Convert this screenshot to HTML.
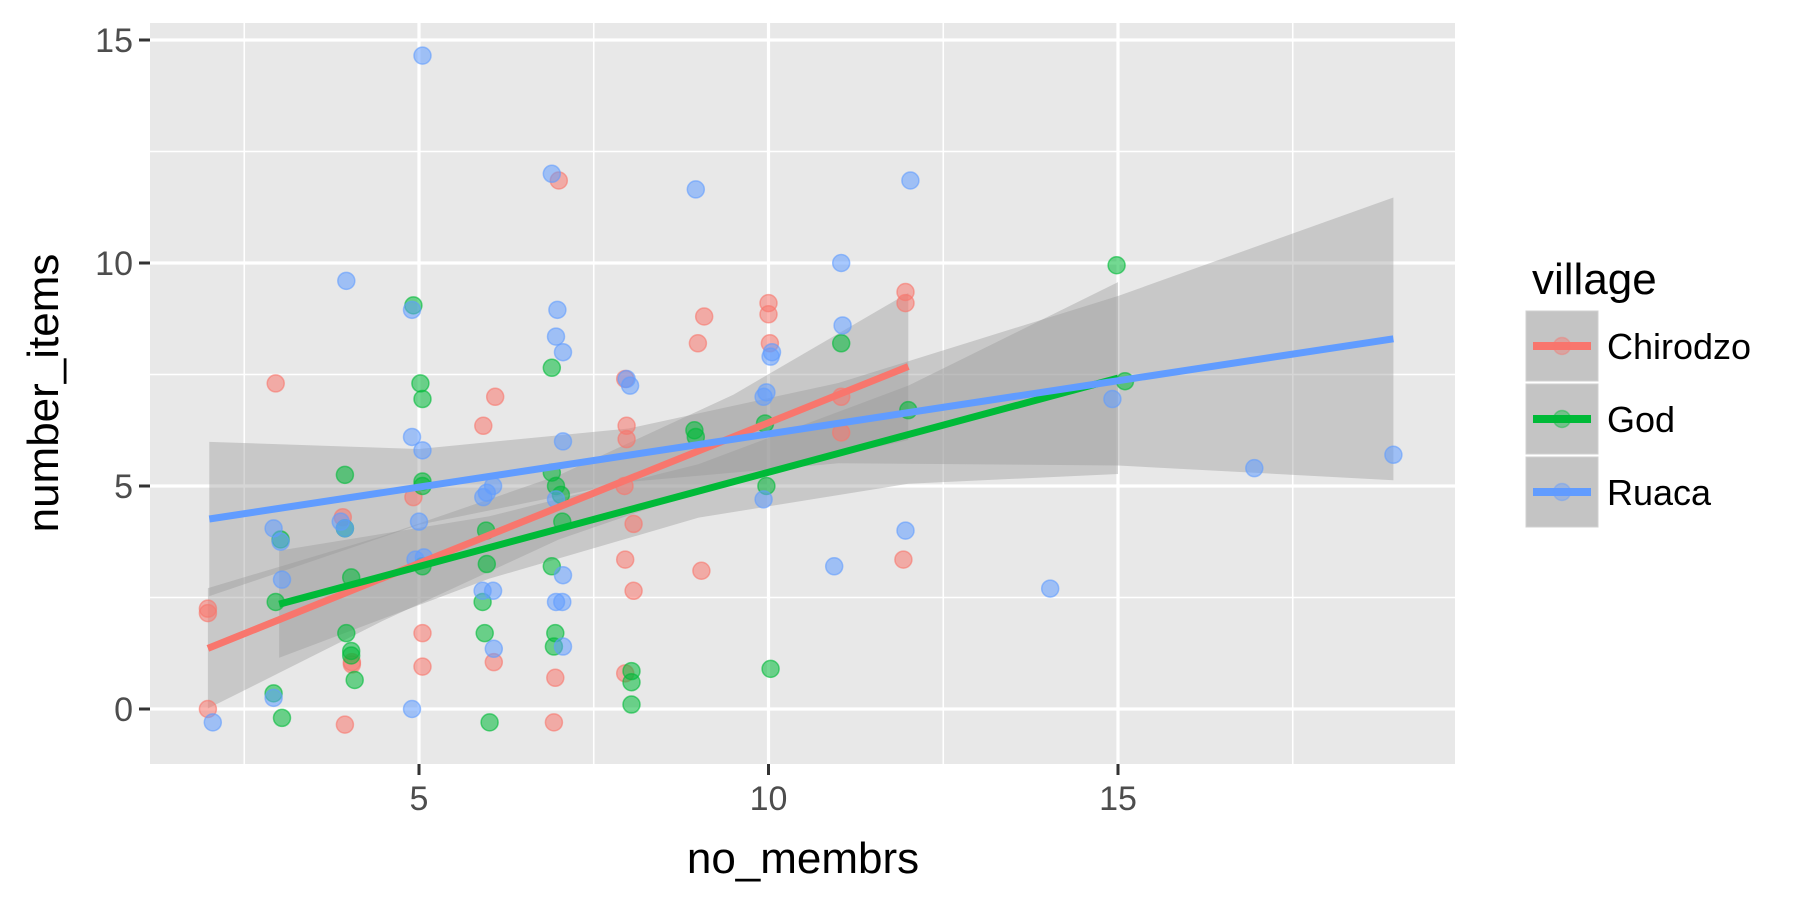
<!DOCTYPE html>
<html><head><meta charset="utf-8"><style>
html,body{margin:0;padding:0;background:#fff;}
svg{display:block;font-family:"Liberation Sans",Arial,sans-serif;}
</style></head><body>
<svg id="chart" width="1800" height="900" viewBox="0 0 1800 900">
<rect x="150" y="23" width="1305" height="741" fill="#E8E8E8"/>
<g id="grid"></g>
<g id="bands"></g>
<g id="points"></g>
<g id="lines"></g>
<g id="axes"></g>
<text x="803" y="873" font-size="44" text-anchor="middle" fill="#000">no_membrs</text>
<text transform="translate(58,393) rotate(-90)" font-size="44" text-anchor="middle" fill="#000">number_items</text>
<g id="legend">
<text x="1532" y="294" font-size="44" fill="#000">village</text>
</g>
</svg>
<script>
const categories = ["Chirodzo","God","Ruaca"];
const colors = ["#F8766D","#00BA38","#619CFF"];
const xTicks = [5,10,15];
const yTicks = [0,5,10,15];
const xMinor = [2.5,7.5,12.5,17.5];
const yMinor = [2.5,7.5,12.5];

const chirX = [1.98,1.98,1.98,2.95,3.91,3.94,4.04,4.04,4.92,5.05,5.05,5.92,6.09,6.07,7.0,6.95,6.93,7.95,7.97,7.97,7.94,7.95,8.07,8.07,7.95,8.99,9.08,9.04,10,10,10.02,11.04,11.04,11.96,11.96,11.93];
const chirY = [2.25,2.15,0,7.3,4.3,-0.35,1.05,1.0,4.75,1.7,0.95,6.35,7.0,1.05,11.85,0.7,-0.3,7.4,6.35,6.05,5.0,3.35,4.15,2.65,0.8,8.2,8.8,3.1,9.1,8.85,8.2,7.0,6.2,9.35,9.1,3.35];
const godX = [2.95,2.92,3.04,3.02,3.94,3.94,4.03,3.96,4.03,4.03,4.08,4.92,5.02,5.05,5.05,5.05,5.05,5.91,5.96,5.94,5.97,6.01,6.90,6.90,6.96,7.03,7.05,6.90,6.95,6.93,8.04,8.04,8.04,8.94,8.96,9.95,9.97,10.03,11.04,12.0,14.98,15.1];
const godY = [2.4,0.35,-0.2,3.8,5.25,4.05,2.95,1.7,1.3,1.2,0.65,9.05,7.3,6.95,5.1,5.0,3.2,2.4,4.0,1.7,3.25,-0.3,7.65,5.3,5.0,4.8,4.2,3.2,1.7,1.4,0.85,0.6,0.1,6.25,6.1,6.4,5.0,0.9,8.2,6.7,9.95,7.35];
const ruaX = [2.05,2.92,3.02,3.04,2.92,3.96,3.88,3.94,4.90,5.05,4.90,5.05,5.0,4.95,5.07,4.90,5.92,5.97,6.06,5.91,6.06,6.07,6.90,6.98,6.96,7.06,7.06,6.96,7.06,6.96,7.05,7.06,7.97,8.02,8.96,9.93,9.97,10.05,10.03,9.93,11.04,11.06,10.94,12.03,11.96,14.03,14.92,16.95,18.94];
const ruaY = [-0.3,4.05,3.75,2.9,0.25,9.6,4.2,4.05,8.95,14.65,6.1,5.8,4.2,3.35,3.4,0,4.75,4.85,5.0,2.65,2.65,1.35,12.0,8.95,8.35,8.0,6.0,4.7,3.0,2.4,2.4,1.4,7.4,7.25,11.65,7.0,7.1,8.0,7.9,4.7,10.0,8.6,3.2,11.85,4.0,2.7,6.95,5.4,5.7];

const chirFitX = [1.98,4.5,7,9.5,12];
const chirFitY = [1.36,2.94,4.52,6.1,7.68];
const chirHalf = [1.35,0.95,0.72,0.95,1.65];
const godFitX = [3,6,9,12,15];
const godFitY = [2.35,3.62,4.89,6.15,7.42];
const godHalf = [1.2,0.7,0.6,1.1,2.15];
const ruaFitX = [2,5,8,11,15,18.94];
const ruaFitY = [4.26,4.98,5.69,6.41,7.36,8.3];
const ruaHalf = [1.73,0.85,0.6,0.9,1.9,3.17];

const X0=150,X1=1455,Y0=23,Y1=764;
const xs = v => 419 + (v-5)*69.9;
const ys = v => 709 - v*44.6;
const NS="http://www.w3.org/2000/svg";
function mk(tag, attrs, parent){const e=document.createElementNS(NS,tag);for(const k in attrs)e.setAttribute(k,attrs[k]);parent.appendChild(e);return e;}

const grid=document.getElementById('grid');
xMinor.forEach(v=>{const l=mk('line',{x1:xs(v),x2:xs(v),y1:Y0,y2:Y1,stroke:'#fff','stroke-width':1.6},grid);

});
yMinor.forEach(v=>{const l=mk('line',{x1:X0,x2:X1,y1:ys(v),y2:ys(v),stroke:'#fff','stroke-width':1.6},grid);

});
xTicks.forEach(v=>{const l=mk('line',{x1:xs(v),x2:xs(v),y1:Y0,y2:Y1,stroke:'#fff','stroke-width':3.2},grid);

});
yTicks.forEach(v=>{const l=mk('line',{x1:X0,x2:X1,y1:ys(v),y2:ys(v),stroke:'#fff','stroke-width':3.2},grid);

});

const bands=document.getElementById('bands');
const fits=[[chirFitX,chirFitY,chirHalf],[godFitX,godFitY,godHalf],[ruaFitX,ruaFitY,ruaHalf]];
fits.forEach((f,i)=>{
  const [fx,fy,fh]=f;
  const up=fx.map((x,j)=>xs(x)+','+ys(fy[j]+fh[j]));
  const lo=fx.map((x,j)=>xs(x)+','+ys(fy[j]-fh[j])).reverse();
  const p=mk('polygon',{points:up.concat(lo).join(' '),fill:'#999999','fill-opacity':0.4},bands);
  
  
});

const pts=document.getElementById('points');
[[chirX,chirY],[godX,godY],[ruaX,ruaY]].forEach((s,i)=>{
  s[0].forEach((x,j)=>{
    const c=mk('circle',{cx:xs(x),cy:ys(s[1][j]),r:8.5,fill:colors[i],'fill-opacity':0.55,stroke:colors[i],'stroke-opacity':0.6,'stroke-width':1.5},pts);
    
    
  });
});

const lines=document.getElementById('lines');
fits.forEach((f,i)=>{
  const [fx,fy]=f;const n=fx.length-1;
  const l=mk('line',{x1:xs(fx[0]),y1:ys(fy[0]),x2:xs(fx[n]),y2:ys(fy[n]),stroke:colors[i],'stroke-width':7},lines);
  
  
});

const axes=document.getElementById('axes');
xTicks.forEach(v=>{
  const t=mk('line',{x1:xs(v),x2:xs(v),y1:Y1,y2:Y1+11,stroke:'#333','stroke-width':3},axes);
  
  
  const tx=mk('text',{x:xs(v),y:Y1+46,'font-size':34,'text-anchor':'middle',fill:'#4D4D4D'},axes);
  tx.textContent=v;
  
  
});
yTicks.forEach(v=>{
  const t=mk('line',{x1:X0-11,x2:X0,y1:ys(v),y2:ys(v),stroke:'#333','stroke-width':3},axes);
  
  
  const tx=mk('text',{x:X0-17,y:ys(v)+12,'font-size':34,'text-anchor':'end',fill:'#4D4D4D'},axes);
  tx.textContent=v;
  
  
});

const leg=document.getElementById('legend');
categories.forEach((c,i)=>{
  const y=311+i*73;
  const g=mk('g',{},leg);
  
  
  mk('rect',{x:1526,y:y,width:72,height:70,fill:'#C4C4C4',stroke:'#d0d0d0','stroke-width':1},g);
  mk('line',{x1:1533,x2:1591,y1:y+35,y2:y+35,stroke:colors[i],'stroke-width':8},g);
  mk('circle',{cx:1562,cy:y+35,r:8.5,fill:colors[i],'fill-opacity':0.4,stroke:colors[i],'stroke-opacity':0.4,'stroke-width':1.5},g);
  const t=mk('text',{x:1607,y:y+48,'font-size':36,fill:'#000'},g);
  t.textContent=c;
});
</script>
</body></html>
